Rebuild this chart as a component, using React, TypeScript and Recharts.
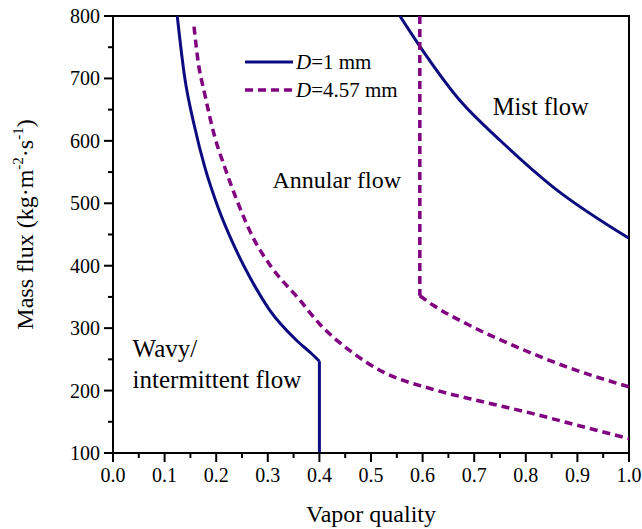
import React from 'react';
import { LineChart, Line, XAxis, YAxis, ReferenceArea, ReferenceDot, Legend } from 'recharts';

// D = 1 mm (solid)
const d1Left = [
  { x: 0.1245, y: 800 }, { x: 0.1387, y: 703 }, { x: 0.158, y: 623 }, { x: 0.1775, y: 559 },
  { x: 0.2033, y: 494 }, { x: 0.2357, y: 430 }, { x: 0.265, y: 382 }, { x: 0.3036, y: 329 },
  { x: 0.355, y: 281 }, { x: 0.385, y: 259 }, { x: 0.4, y: 247 },
];
const d1Vertical = [{ x: 0.4, y: 247 }, { x: 0.4, y: 100 }];
const d1Mist = [
  { x: 0.556, y: 800 }, { x: 0.595, y: 751 }, { x: 0.672, y: 665 }, { x: 0.75, y: 601 },
  { x: 0.853, y: 526 }, { x: 1.0, y: 444 },
];

// D = 4.57 mm (dashed)
const d457Lower = [
  { x: 0.157, y: 783 }, { x: 0.1646, y: 729 }, { x: 0.1775, y: 676 }, { x: 0.197, y: 607 },
  { x: 0.216, y: 559 }, { x: 0.24, y: 505 }, { x: 0.274, y: 441 }, { x: 0.307, y: 398 },
  { x: 0.362, y: 345 }, { x: 0.4, y: 307 }, { x: 0.459, y: 264 }, { x: 0.523, y: 230 },
  { x: 0.62, y: 202 }, { x: 0.717, y: 182 }, { x: 0.814, y: 163 }, { x: 0.911, y: 142 },
  { x: 1.0, y: 123 },
];
const d457Vertical = [{ x: 0.5946, y: 800 }, { x: 0.5946, y: 352 }];
const d457Upper = [
  { x: 0.5946, y: 352 }, { x: 0.62, y: 337 }, { x: 0.685, y: 307 }, { x: 0.782, y: 270 },
  { x: 0.879, y: 238 }, { x: 1.0, y: 206 },
];

const xTicks = [0, 0.05, 0.1, 0.15, 0.2, 0.25, 0.3, 0.35, 0.4, 0.45, 0.5, 0.55, 0.6, 0.65, 0.7, 0.75, 0.8, 0.85, 0.9, 0.95, 1.0];
const yTicks = [100, 150, 200, 250, 300, 350, 400, 450, 500, 550, 600, 650, 700, 750, 800];

const SOLID = '#0c0c80';
const DASH = '#800080';
const FONT = '"Liberation Serif", "Times New Roman", serif';

const XTick = (props: any) => {
  const { x, y, payload } = props;
  const v = payload.value;
  const major = Math.abs(v * 10 - Math.round(v * 10)) < 1e-6;
  return (
    <g>
      <line x1={x} x2={x} y1={y} y2={y + (major ? 9 : 5)} stroke="#000" strokeWidth={2} />
      {major && (
        <text x={x} y={y + 29} textAnchor="middle" fontSize={20} fontFamily={FONT} fill="#000">
          {v.toFixed(1)}
        </text>
      )}
    </g>
  );
};

const YTick = (props: any) => {
  const { x, y, payload } = props;
  const v = payload.value;
  const major = v % 100 === 0;
  return (
    <g>
      <line x1={x} x2={x - (major ? 9 : 5)} y1={y} y2={y} stroke="#000" strokeWidth={2} />
      {major && (
        <text x={x - 13} y={y + 7} textAnchor="end" fontSize={20} fontFamily={FONT} fill="#000">
          {v}
        </text>
      )}
    </g>
  );
};

const regionText = (lines: string[], size: number) => (p: any) => (
  <text x={p.cx} y={p.cy} fontSize={size} fontFamily={FONT} fill="#000">
    {lines.map((l, i) => (
      <tspan key={i} x={p.cx} dy={i === 0 ? 0 : 31}>{l}</tspan>
    ))}
  </text>
);

const LegendBox = () => (
  <svg width={170} height={56} style={{ display: 'block' }}>
    <line x1={5} x2={53} y1={12} y2={12} stroke={SOLID} strokeWidth={3} />
    <text x={56} y={18.5} fontSize={21} fontFamily={FONT} fill="#000">
      <tspan fontStyle="italic">D</tspan>=1 mm
    </text>
    <line x1={5} x2={53} y1={40} y2={40} stroke={DASH} strokeWidth={3.5} strokeDasharray="8 5" />
    <text x={56} y={46.5} fontSize={21} fontFamily={FONT} fill="#000">
      <tspan fontStyle="italic">D</tspan>=4.57 mm
    </text>
  </svg>
);

export default function App() {
  return (
    <div style={{ position: 'absolute', left: 0, top: 0, width: 642, height: 529, background: '#fff' }}>
      <LineChart width={642} height={529} margin={{ top: 16, right: 13, bottom: 0, left: 0 }}>
        <XAxis
          type="number"
          dataKey="x"
          domain={[0, 1]}
          ticks={xTicks}
          interval={0}
          allowDataOverflow
          height={76}
          tickSize={0}
          tickMargin={0}
          tickLine={false}
          axisLine={{ stroke: '#000', strokeWidth: 2 }}
          tick={<XTick />}
          label={{
            content: (p: any) => {
              const vb = p.viewBox;
              return (
                <text x={vb.x + vb.width / 2} y={vb.y + 69} textAnchor="middle" fontSize={24} fontFamily={FONT} fill="#000">
                  Vapor quality
                </text>
              );
            },
          }}
        />
        <YAxis
          type="number"
          dataKey="y"
          domain={[100, 800]}
          ticks={yTicks}
          interval={0}
          allowDataOverflow
          width={113}
          tickSize={0}
          tickMargin={0}
          tickLine={false}
          axisLine={{ stroke: '#000', strokeWidth: 2 }}
          tick={<YTick />}
          label={{
            content: (p: any) => {
              const vb = p.viewBox;
              const cx = vb.x + 33;
              const cy = vb.y + vb.height / 2 - 10;
              return (
                <text transform={`translate(${cx}, ${cy}) rotate(-90)`} textAnchor="middle" fontSize={24} fontFamily={FONT} fill="#000">
                  Mass flux (kg·m
                  <tspan dy={-10} fontSize={15}>-2</tspan>
                  <tspan dy={10}>·s</tspan>
                  <tspan dy={-10} fontSize={15}>-1</tspan>
                  <tspan dy={10}>)</tspan>
                </text>
              );
            },
          }}
        />
        <ReferenceArea x1={0} x2={1} y1={100} y2={800} fill="none" stroke="#000" strokeWidth={2} ifOverflow="visible" />
        <Line data={d1Left} dataKey="y" type="monotone" stroke={SOLID} strokeWidth={3} dot={false} isAnimationActive={false} />
        <Line data={d1Vertical} dataKey="y" type="linear" stroke={SOLID} strokeWidth={3} dot={false} isAnimationActive={false} />
        <Line data={d1Mist} dataKey="y" type="monotone" stroke={SOLID} strokeWidth={3} dot={false} isAnimationActive={false} />
        <Line data={d457Lower} dataKey="y" type="monotone" stroke={DASH} strokeWidth={3.5} strokeDasharray="8 5" dot={false} isAnimationActive={false} />
        <Line data={d457Vertical} dataKey="y" type="linear" stroke={DASH} strokeWidth={3.5} strokeDasharray="8 5" dot={false} isAnimationActive={false} />
        <Line data={d457Upper} dataKey="y" type="monotone" stroke={DASH} strokeWidth={3.5} strokeDasharray="8 5" dot={false} isAnimationActive={false} />
        <ReferenceDot x={0.309} y={524} r={0} shape={regionText(['Annular flow'], 24)} />
        <ReferenceDot x={0.736} y={641} r={0} shape={regionText(['Mist flow'], 24.5)} />
        <ReferenceDot x={0.038} y={253} r={0} shape={regionText(['Wavy/', 'intermittent flow'], 25)} />
        <Legend
          layout="vertical"
          align="center"
          verticalAlign="middle"
          content={() => <LegendBox />}
          wrapperStyle={{ position: 'absolute', left: 240, top: 50, width: 170, height: 56 }}
        />
      </LineChart>
    </div>
  );
}
